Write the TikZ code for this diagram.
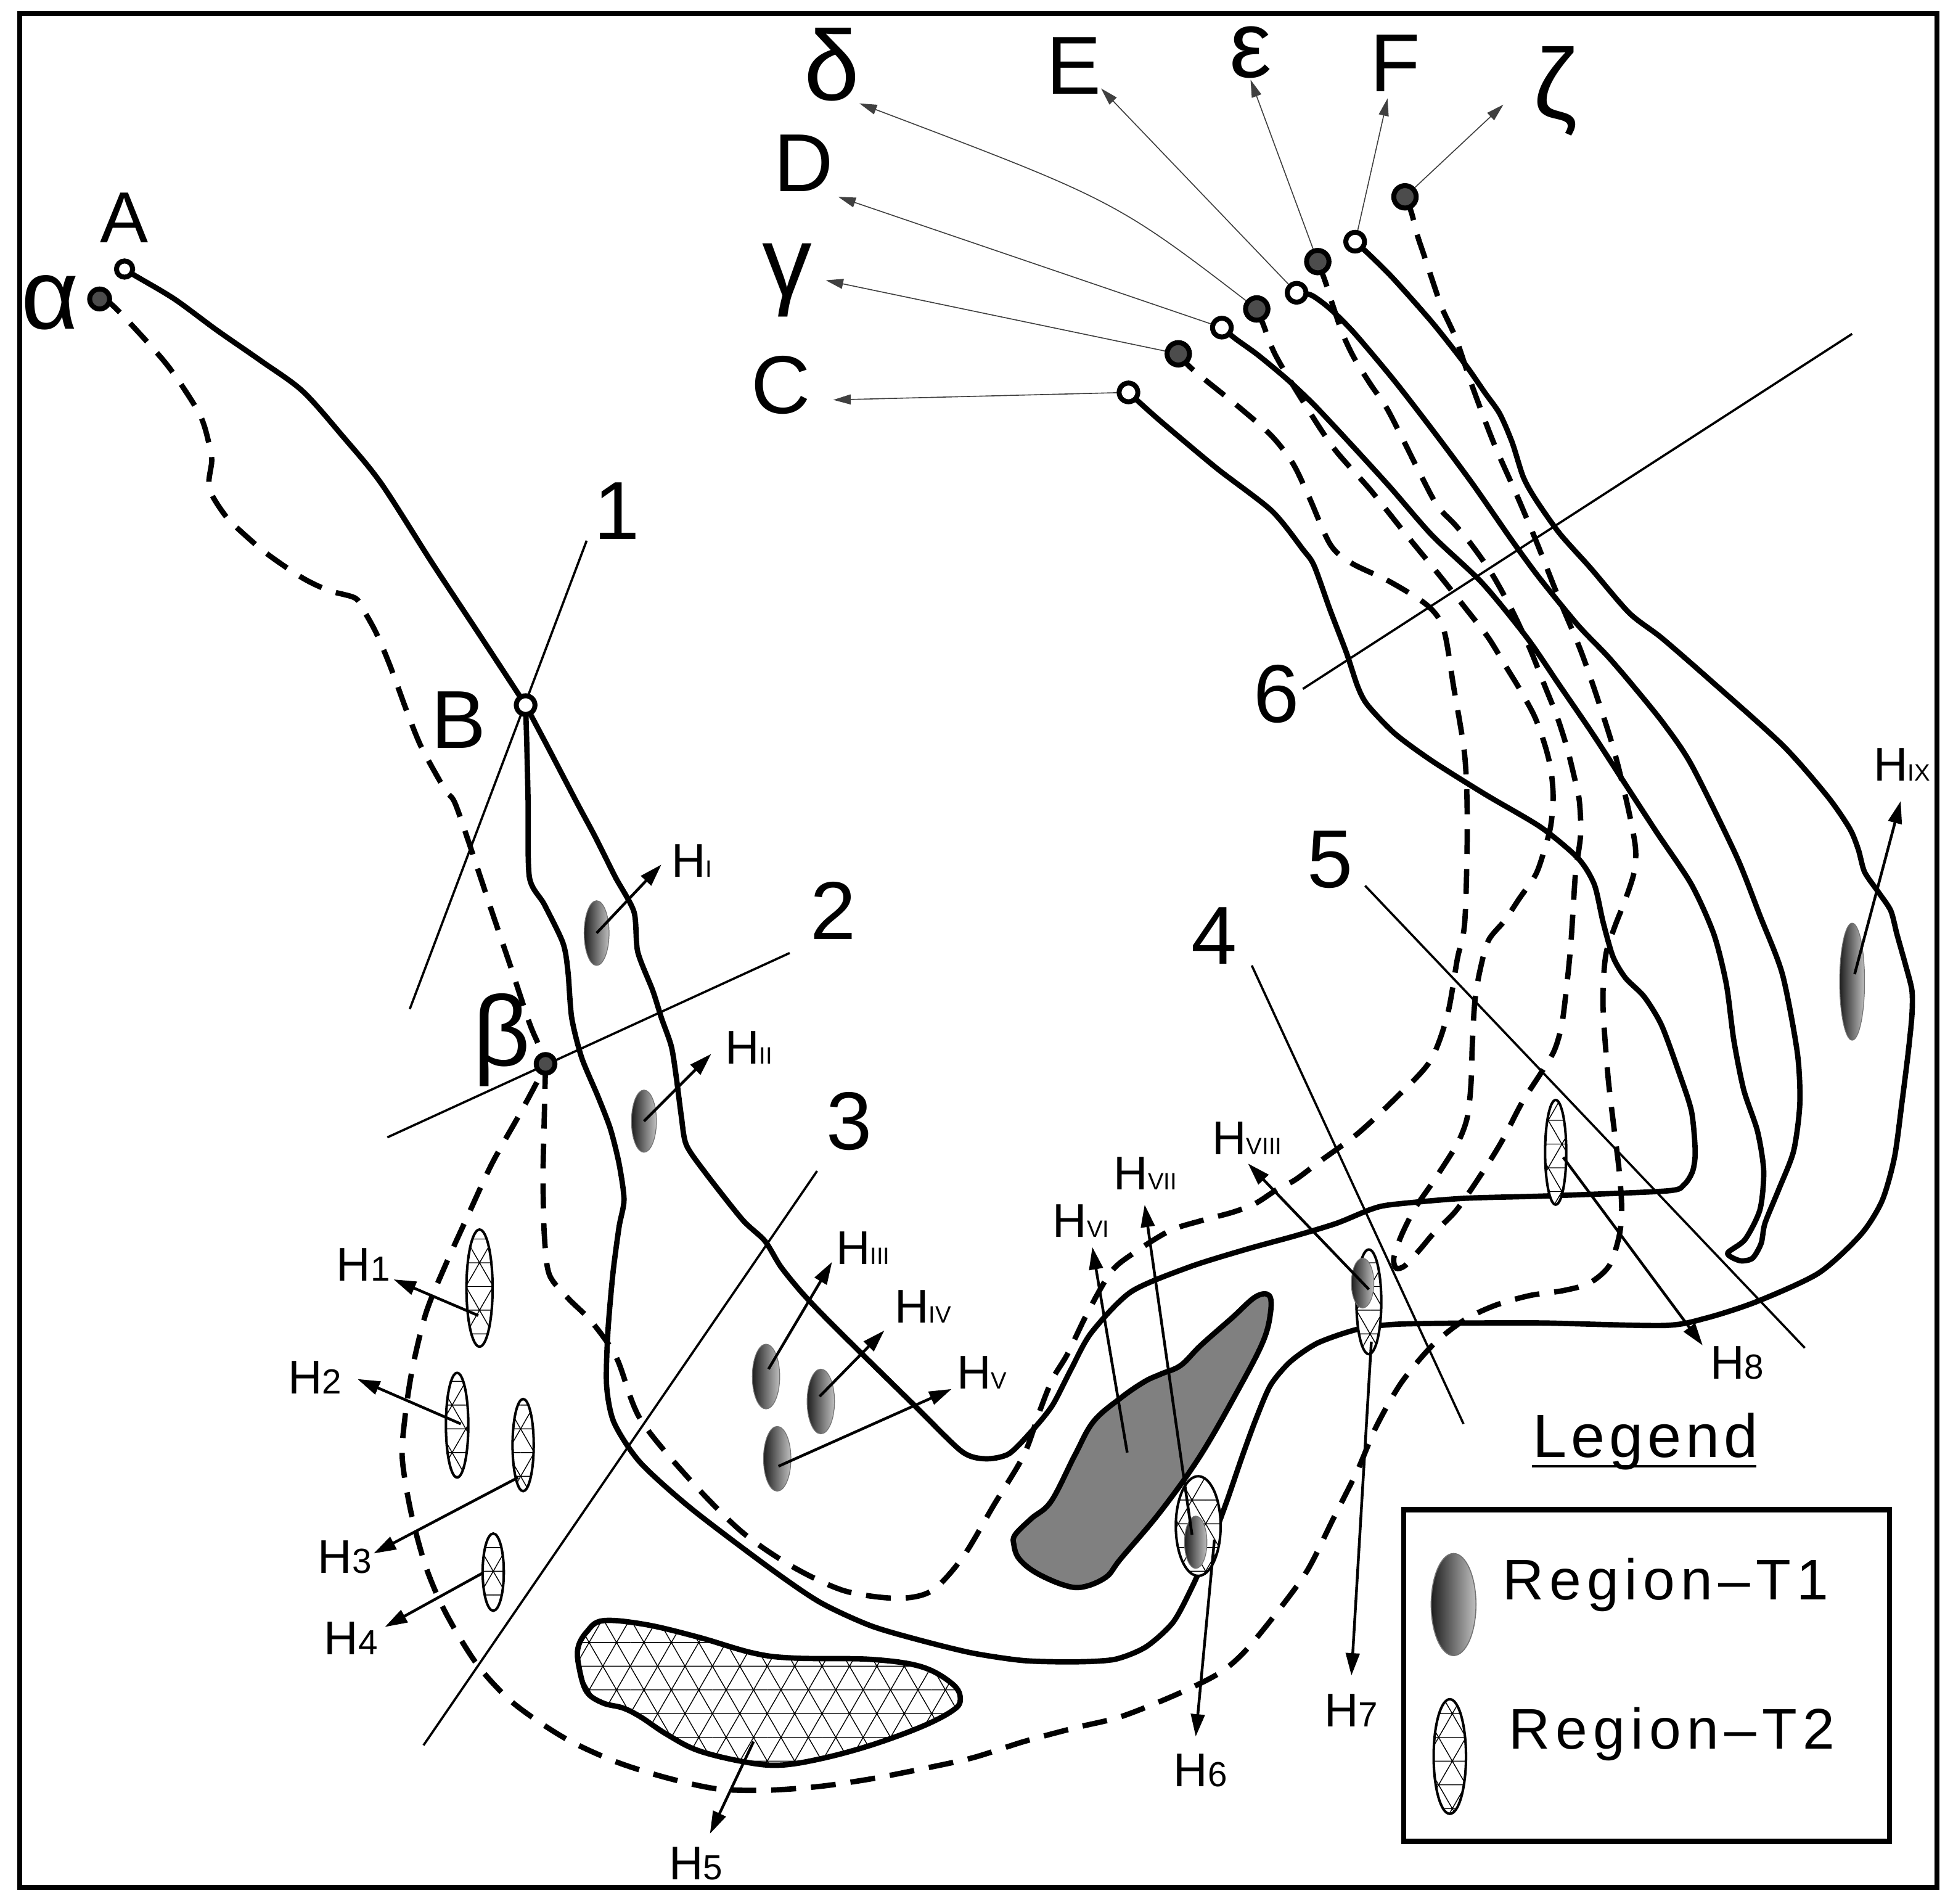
\documentclass[tikz,border=0pt]{standalone}
\usepackage{fontspec}
\setmainfont{Liberation Sans}
\usetikzlibrary{arrows.meta,patterns}
\pgfdeclarepatternformonly{trinet}{\pgfqpoint{-1pt}{-1pt}}{\pgfqpoint{23pt}{39.1pt}}{\pgfqpoint{22pt}{38.1pt}}{%
  \pgfsetlinewidth{0.7pt}%
  \pgfpathmoveto{\pgfqpoint{0pt}{0pt}}\pgfpathlineto{\pgfqpoint{22pt}{0pt}}%
  \pgfpathmoveto{\pgfqpoint{0pt}{19.05pt}}\pgfpathlineto{\pgfqpoint{22pt}{19.05pt}}%
  \pgfpathmoveto{\pgfqpoint{0pt}{0pt}}\pgfpathlineto{\pgfqpoint{22pt}{38.1pt}}%
  \pgfpathmoveto{\pgfqpoint{22pt}{0pt}}\pgfpathlineto{\pgfqpoint{0pt}{38.1pt}}%
  \pgfusepath{stroke}}
\newcommand\fsz[1]{\fontsize{#1}{#1}\selectfont}
\newcommand\hsubr[1]{{\fsz{19pt}#1}}
\newcommand\hsubd[1]{{\fsz{28pt}#1}}
\begin{document}
\begin{tikzpicture}[x=1pt,y=-1pt,
  solidl/.style={line width=4.3pt, line join=round, line cap=round},
  dashl/.style={line width=4.3pt, dash pattern=on 20pt off 12pt},
  secl/.style={line width=1.8pt},
  leader/.style={line width=0.8pt, draw=black!75, -{Triangle[length=14pt,width=8pt]}},
  harrow/.style={line width=2.2pt, -{Triangle[length=18pt,width=11pt]}},
  opendot/.style={circle, draw, line width=4pt, fill=white, minimum size=15pt, inner sep=0pt},
  filldot/.style={circle, draw, line width=4pt, fill=black!70, minimum size=18pt, inner sep=0pt},
  tone/.style={left color=black!88, right color=black!25, draw=black!55, line width=0.6pt},
  ttwo/.style={draw, line width=2pt, preaction={fill=white}, pattern=trinet},
  latin/.style={font=\fsz{66pt}, inner sep=0pt},
  greek/.style={font=\fsz{80pt}, inner sep=0pt},
  hlab/.style={font=\fsz{38pt}, inner sep=0pt, anchor=base west}
]
\useasboundingbox (0,0) rectangle (1568,1528);
\fill[white] (0,0) rectangle (1568,1528);

% ---------- dot positions ----------
\coordinate (pA) at (100,216);
\coordinate (palpha) at (80,240);
\coordinate (pB) at (422,566);
\coordinate (pbeta) at (438,854);
\coordinate (pC) at (906,315);
\coordinate (pgamma) at (946,284);
\coordinate (pD) at (981,263);
\coordinate (pdelta) at (1009,248);
\coordinate (pE) at (1041,235);
\coordinate (peps) at (1058,210);
\coordinate (pF) at (1088,194);
\coordinate (pzeta) at (1128,158);

% ---------- blobs ----------
\draw[line width=4.3pt, preaction={fill=white}, pattern=trinet] plot[smooth cycle, tension=0.6] coordinates {
 (484,1301) (518,1304) (560,1314) (605,1327) (638,1331) (699,1332) (740,1338) (765,1352) (771,1364)
 (765,1373) (740,1386) (699,1401) (658,1412) (625,1417) (596,1414) (560,1405) (535,1392) (514,1378)
 (500,1371) (484,1367) (471,1358) (465,1339) (464,1323) (471,1310)};
\draw[line width=4.3pt, fill=black!50] plot[smooth cycle, tension=0.6] coordinates {
 (815,1232) (828,1219) (844,1205) (863,1168) (878,1141) (900,1122) (919,1109) (932,1103) (948,1096)
 (964,1080) (989,1058) (1008,1041) (1019,1040) (1020,1054) (1014,1077) (995,1114) (964,1168)
 (932,1213) (900,1251) (888,1266) (869,1274) (853,1272) (831,1262) (818,1251) (814,1240)};

% ---------- section lines ----------
\coordinate (s1a) at (471,434); \coordinate (s1b) at (329,810);
\coordinate (s2a) at (634,765); \coordinate (s2b) at (311,913);
\coordinate (s3a) at (656,940); \coordinate (s3b) at (340,1401);
\coordinate (s4a) at (1005,775); \coordinate (s4b) at (1175,1143);
\coordinate (s5a) at (1096,711); \coordinate (s5b) at (1449,1082);
\coordinate (s6a) at (1046,553); \coordinate (s6b) at (1487,268);
\draw[secl] (s1a) -- (s1b);
\draw[secl] (s2a) -- (s2b);
\draw[secl] (s3a) -- (s3b);
\draw[secl] (s4a) -- (s4b);
\draw[secl] (s5a) -- (s5b);
\draw[secl] (s6a) -- (s6b);

% ---------- dashed lines ----------
\draw[dashl] plot[smooth, tension=0.5] coordinates {(palpha) (88,243) (104,259) (135,294) (160,332) (168,357)
 (170,370) (168,392) (181,414) (195,428) (215,445) (243,464) (264,474) (285,480) (292,490) (302,508)
 (313,534) (327,572) (337,597) (347,616) (358,635) (365,644) (376,675) (395,732) (410,776) (425,821)
 (433,840) (pbeta)};
\draw[dashl] plot[smooth, tension=0.5] coordinates {(pbeta) (437,896) (436,944) (437,991) (441,1023)
 (456,1042) (475,1061) (495,1090) (514,1139) (555,1189) (596,1230) (637,1258) (678,1277) (720,1283)
 (748,1277) (773,1250) (798,1208) (822,1168) (835,1132) (845,1107) (857,1087) (873,1054) (892,1021)
 (910,1006) (939,988) (964,980) (990,973) (1008,966) (1025,955) (1040,947) (1060,932) (1090,910)
 (1120,882) (1148,852) (1162,815) (1170,770) (1176,740) (1178,664) (1176,607) (1167,551) (1159,505)
 (1146,486) (1116,467) (1085,452) (1068,437) (1051,399) (1038,372) (1021,350) (995,327) (958,297) (pgamma)};
\draw[dashl] plot[smooth, tension=0.5] coordinates {(pzeta) (1133,170) (1138,189) (1143,204) (1152,231)
 (1158,248) (1169,272) (1182,310) (1199,355) (1218,398) (1234,436) (1251,479) (1269,522) (1283,562)
 (1296,603) (1307,648) (1313,680) (1312,700) (1305,722) (1296,745) (1289,768) (1287,807) (1291,864)
 (1296,907) (1300,940) (1302,970) (1300,992) (1292,1016) (1276,1030) (1255,1036) (1228,1040)
 (1200,1048) (1175,1060) (1150,1080) (1125,1110) (1105,1145) (1090,1180) (1070,1220) (1050,1260)
 (1027,1292) (1000,1325) (979,1343) (945,1360) (900,1378) (863,1387) (822,1398) (781,1411) (740,1420)
 (699,1428) (658,1434) (617,1437) (576,1436) (535,1427) (494,1414) (453,1395) (412,1367) (383,1336)
 (358,1295) (342,1258) (330,1214) (323,1171) (325,1139) (331,1099) (342,1054) (357,1017) (376,975)
 (395,934) (418,893) (433,865) (pbeta)};
\draw[dashl] plot[smooth, tension=0.5] coordinates {(pdelta) (1014,260) (1024,285) (1046,322) (1071,360)
 (1100,393) (1128,428) (1155,461) (1178,490) (1195,512) (1209,535) (1220,553) (1232,575) (1240,597)
 (1245,617) (1247,640) (1245,663) (1240,682) (1233,702) (1220,721) (1208,739) (1195,755) (1188,780)
 (1184,805) (1182,840) (1181,870) (1178,897) (1170,918) (1151,948) (1136,970) (1125,992) (1119,1010)
 (1121,1018) (1128,1016) (1140,1003) (1151,990) (1168,973) (1181,955) (1198,929) (1208,912)
 (1222,885) (1238,860) (1248,843) (1254,822) (1258,790) (1261,760) (1263,730) (1265,700) (1269,670)
 (1268,643) (1264,624) (1258,600) (1250,575) (1240,550) (1228,520) (1214,490) (1198,461) (1182,438)
 (1168,421) (1154,406) (1140,380) (1125,350) (1113,327) (1100,308) (1087,287) (1078,268) (1070,245)
 (1064,226) (peps)};

% ---------- solid lines ----------
\draw[solidl] plot[smooth, tension=0.5] coordinates {(pA) (108,221) (140,240) (174,265) (210,290)
 (243,314) (275,350) (306,388) (347,452) (382,505) (405,540) (pB)};
\draw[solidl] plot[smooth, tension=0.45] coordinates {(pB) (423,600) (424,644) (425,704) (437,726)
 (452,757) (456,780) (459,817) (467,849) (480,880) (490,906) (497,934) (501,963) (497,985) (492,1023)
 (488,1070) (487,1112) (493,1142) (514,1174) (555,1211) (617,1258) (658,1286) (699,1305) (740,1317)
 (781,1327) (822,1333) (863,1334) (895,1332) (920,1322) (942,1302) (958,1272) (972,1240) (985,1205)
 (997,1170) (1008,1140) (1020,1112) (1036,1093) (1058,1078) (1090,1067) (1121,1063) (1185,1062)
 (1240,1062) (1336,1064) (1370,1058) (1410,1045) (1460,1022) (1494,991) (1511,964) (1521,929)
 (1527,885) (1532,845) (1535,815) (1535,795) (1530,775) (1523,750) (1518,731) (1508,716) (1497,700)
 (1492,682) (1485,665) (1467,639) (1431,598) (1372,545) (1334,512) (1308,492) (1277,456) (1252,428)
 (1233,401) (1223,383) (1214,355) (1204,332) (1192,315) (1176,292) (1150,259) (1119,224) (1100,205) (pF)};
\draw[solidl] plot[smooth, tension=0.45] coordinates {(pB) (440,600) (463,644) (478,672) (494,704)
 (509,732) (512,764) (524,795) (531,817) (539,840) (543,865) (547,896) (551,919) (566,941) (596,979)
 (614,996) (627,1017) (645,1039) (671,1066) (734,1128) (772,1165) (791,1171) (810,1167) (829,1148)
 (845,1128) (860,1099) (876,1070) (908,1037) (955,1017) (1000,1003) (1040,992) (1073,982) (1100,971)
 (1117,967) (1174,962) (1242,960) (1338,956) (1352,951) (1359,940) (1361,924) (1358,892) (1348,861)
 (1334,823) (1320,800) (1305,785) (1295,768) (1287,740) (1280,710) (1267,689) (1237,664) (1193,638)
 (1150,611) (1120,589) (1098,566) (1090,551) (1081,524) (1068,490) (1055,454) (1046,441) (1021,410)
 (977,376) (934,340) (917,325) (pC)};
\draw[solidl] plot[smooth, tension=0.45] coordinates {(pD) (992,272) (1010,285) (1034,305) (1056,326)
 (1085,357) (1116,391) (1150,430) (1190,468) (1226,512) (1252,550) (1278,588) (1302,625) (1330,668)
 (1358,710) (1376,750) (1386,790) (1392,835) (1400,875) (1411,908) (1416,940) (1413,971) (1401,995)
 (1387,1006) (1397,1012) (1407,1010) (1414,998) (1417,982) (1428,955) (1440,924) (1445,886)
 (1443,845) (1431,782) (1413,735) (1394,687) (1358,614) (1335,580) (1309,548) (1290,526) (1267,502)
 (1236,464) (1214,434) (1182,388) (1150,345) (1119,305) (1087,267) (1068,248) (1053,237) (pE)};

% ---------- T2 (hatched) ellipses ----------
\path[ttwo] (385,1034) ellipse [x radius=10.5pt, y radius=47pt];
\path[ttwo] (367,1144) ellipse [x radius=9pt, y radius=42pt];
\path[ttwo] (420,1160) ellipse [x radius=8.5pt, y radius=37pt];
\path[ttwo] (396,1262) ellipse [x radius=8.5pt, y radius=31pt];
\path[ttwo] (962,1225) ellipse [x radius=18pt, y radius=40pt];
\path[ttwo] (1099,1045) ellipse [x radius=10pt, y radius=42pt];
\path[ttwo] (1249,925) ellipse [x radius=8.5pt, y radius=42pt];

% ---------- T1 (shaded) ellipses ----------
\path[tone] (479,749) ellipse [x radius=10pt, y radius=26pt];
\path[tone] (517,900) ellipse [x radius=10pt, y radius=25pt];
\path[tone] (615,1105) ellipse [x radius=11pt, y radius=26pt];
\path[tone] (659,1125) ellipse [x radius=11pt, y radius=26pt];
\path[tone] (624,1171) ellipse [x radius=11pt, y radius=26pt];
\path[tone] (1487,788) ellipse [x radius=10pt, y radius=47pt];
\path[tone] (960,1238) ellipse [x radius=9pt, y radius=21pt];
\path[tone] (1094,1030) ellipse [x radius=9pt, y radius=20pt];

% ---------- H arrows ----------
\coordinate (hIs) at (479,749);   \coordinate (hIt) at (531,694);
\coordinate (hIIs) at (517,900);  \coordinate (hIIt) at (571,846);
\coordinate (hIIIs) at (617,1099); \coordinate (hIIIt) at (668,1013);
\coordinate (hIVs) at (658,1121); \coordinate (hIVt) at (710,1068);
\coordinate (hVs) at (625,1177);  \coordinate (hVt) at (764,1115);
\coordinate (hVIs) at (905,1166); \coordinate (hVIt) at (877,1001);
\coordinate (hVIIs) at (957,1232); \coordinate (hVIIt) at (919,967);
\coordinate (hVIIIs) at (1099,1035); \coordinate (hVIIIt) at (1002,934);
\coordinate (hIXs) at (1489,782); \coordinate (hIXt) at (1526,643);
\coordinate (h1s) at (384,1056); \coordinate (h1t) at (316,1027);
\coordinate (h2s) at (370,1143); \coordinate (h2t) at (287,1107);
\coordinate (h3s) at (416,1186); \coordinate (h3t) at (300,1247);
\coordinate (h4s) at (387,1263); \coordinate (h4t) at (309,1306);
\coordinate (h5s) at (605,1398); \coordinate (h5t) at (570,1472);
\coordinate (h6s) at (975,1236); \coordinate (h6t) at (960,1394);
\coordinate (h7s) at (1101,1077); \coordinate (h7t) at (1085,1345);
\coordinate (h8s) at (1255,929); \coordinate (h8t) at (1367,1080);
\foreach \a in {hI,hII,hIII,hIV,hV,hVI,hVII,hVIII,hIX,h1,h2,h3,h4,h5,h6,h7,h8}
  \draw[harrow] (\a s) -- (\a t);

% ---------- leader arrows ----------
\coordinate (tC) at (669,321);
\coordinate (tgamma) at (663,225);
\coordinate (tD) at (673,158);
\coordinate (tdelta) at (690,83);
\coordinate (tE) at (884,71);
\coordinate (teps) at (1004,64);
\coordinate (tF) at (1114,79);
\coordinate (tzeta) at (1207,84);
\draw[leader] (pC) -- (tC);
\draw[leader] (pgamma) -- (tgamma);
\draw[leader] (pD) -- (tD);
\draw[leader] (pdelta) .. controls (896,161) .. (tdelta);
\draw[leader] (pE) -- (tE);
\draw[leader] (peps) -- (teps);
\draw[leader] (pF) -- (tF);
\draw[leader] (pzeta) -- (tzeta);

% ---------- dots ----------
\node[opendot, minimum size=13pt] (A) at (pA) {};
\node[filldot, minimum size=16pt] (alpha) at (palpha) {};
\node[opendot] (B) at (pB) {};
\node[filldot, minimum size=15pt] (beta) at (pbeta) {};
\node[opendot] (C) at (pC) {};
\node[filldot] (gamma) at (pgamma) {};
\node[opendot] (D) at (pD) {};
\node[filldot] (delta) at (pdelta) {};
\node[opendot] (E) at (pE) {};
\node[filldot] (eps) at (peps) {};
\node[opendot] (F) at (pF) {};
\node[filldot] (zeta) at (pzeta) {};

% ---------- letter labels ----------
\node[latin, font=\fsz{58pt}] (lA) at (100,175) {A};
\node[greek] (lalpha) at (40,243) {α};
\node[latin] (lB) at (368,578) {B};
\node[greek] (lbeta) at (403,835) {β};
\node[latin] (l1) at (495,410) {1};
\node[latin] (l2) at (669,731) {2};
\node[latin] (l3) at (682,900) {3};
\node[latin] (l4) at (975,751) {4};
\node[latin] (l5) at (1068,690) {5};
\node[latin] (l6) at (1025,557) {6};
\node[latin] (lC) at (627,309) {C};
\node[greek] (lgamma) at (632,225) {γ};
\node[latin] (lD) at (645,131) {D};
\node[greek] (ldelta) at (668,52) {δ};
\node[latin] (lE) at (862,53) {E};
\node[greek, font=\fsz{76pt}] (leps) at (1004,42) {ε};
\node[latin] (lF) at (1120,51) {F};
\node[greek] (lzeta) at (1249,73) {ζ};

% ---------- H labels ----------
\node[hlab] (LHI) at (539,704) {H\hsubr{I}};
\node[hlab] (LHII) at (582,854) {H\hsubr{II}};
\node[hlab] (LHIII) at (671,1015) {H\hsubr{III}};
\node[hlab] (LHIV) at (718,1062) {H\hsubr{IV}};
\node[hlab] (LHV) at (768,1115) {H\hsubr{V}};
\node[hlab] (LHVI) at (845,993) {H\hsubr{VI}};
\node[hlab] (LHVII) at (894,955) {H\hsubr{VII}};
\node[hlab] (LHVIII) at (973,927) {H\hsubr{VIII}};
\node[hlab] (LHIX) at (1504,627) {H\hsubr{IX}};
\node[hlab] (LH1) at (270,1028) {H\hsubd{1}};
\node[hlab] (LH2) at (231,1119) {H\hsubd{2}};
\node[hlab] (LH3) at (255,1263) {H\hsubd{3}};
\node[hlab] (LH4) at (260,1328) {H\hsubd{4}};
\node[hlab] (LH5) at (537,1509) {H\hsubd{5}};
\node[hlab] (LH6) at (942,1434) {H\hsubd{6}};
\node[hlab] (LH7) at (1063,1386) {H\hsubd{7}};
\node[hlab] (LH8) at (1373,1107) {H\hsubd{8}};

% ---------- legend ----------
\node[inner sep=0pt, anchor=base, font=\fsz{49pt}] (leg) at (1321,1170) {\addfontfeature{LetterSpace=7}Legend};
\draw[line width=2pt] (1230,1177) -- (1410,1177);
\draw[line width=4.3pt] (1127,1212) rectangle (1517,1478);
\path[tone, line width=0.8pt] (1167,1288) ellipse [x radius=18pt, y radius=41pt];
\path[ttwo] (1164,1410) ellipse [x radius=13pt, y radius=46pt];
\node[inner sep=0pt, anchor=base west, font=\fsz{46pt}] (r1) at (1206,1284) {\addfontfeature{LetterSpace=10}Region–T1};
\node[inner sep=0pt, anchor=base west, font=\fsz{46pt}] (r2) at (1211,1404) {\addfontfeature{LetterSpace=10}Region–T2};

% ---------- frame ----------
\draw[line width=4pt] (16,11) rectangle (1555,1515);
\end{tikzpicture}
\end{document}
